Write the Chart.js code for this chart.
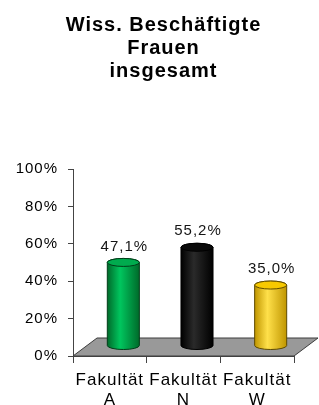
<!DOCTYPE html>
<html>
<head>
<meta charset="utf-8">
<script src="https://cdn.jsdelivr.net/npm/chart.js@4"></script>
<style>
  html, body { margin: 0; padding: 0; background: #fff; }
  #wrap { width: 319px; height: 405px; }
</style>
</head>
<body>
<div id="wrap"><canvas id="chart"></canvas></div>
<script>
const titleLines = ['Wiss. Beschäftigte', 'Frauen', 'insgesamt'];
const categories = [['Fakultät', 'A'], ['Fakultät', 'N'], ['Fakultät', 'W']];
const shares = [47.1, 55.2, 35.0];
const yTickValues = [0, 20, 40, 60, 80, 100];

const FONT = "'Liberation Sans', Arial, sans-serif";

// colours for the cylinders: edge / highlight / top face / outline
const barStyles = [
    { edge: '#006a2a', mid: '#00c65e', top: '#00ab4e', line: '#003d18' },
    { edge: '#000000', mid: '#2a2a2a', top: '#0a0a0a', line: '#000000' },
    { edge: '#c09600', mid: '#ffe04a', top: '#f7c900', line: '#5e4a00' }
];

// fake 3D depth used by Excel-style charts
const DEPTH_X = 24, DEPTH_Y = 18;

const spacing = {
    id: 'spacing',
    beforeDraw(chart) {
        chart.ctx.letterSpacing = '1px';
    }
};

const floor = {
    id: 'floor',
    beforeDatasetsDraw(chart) {
        const { ctx, chartArea: a } = chart;
        ctx.save();
        ctx.beginPath();
        ctx.moveTo(a.left, a.bottom);
        ctx.lineTo(a.left + DEPTH_X, a.bottom - DEPTH_Y);
        ctx.lineTo(a.right + DEPTH_X, a.bottom - DEPTH_Y);
        ctx.lineTo(a.right, a.bottom);
        ctx.closePath();
        ctx.fillStyle = '#999999';
        ctx.fill();
        ctx.strokeStyle = '#3c3c3c';
        ctx.lineWidth = 1;
        ctx.stroke();
        ctx.restore();
    }
};

const cylinders = {
    id: 'cylinders',
    afterDatasetsDraw(chart) {
        const ctx = chart.ctx;
        const meta = chart.getDatasetMeta(0);
        meta.data.forEach((bar, i) => {
            const p = bar.getProps(['x', 'y', 'base', 'width'], true);
            const s = barStyles[i];
            const r = p.width / 2;
            const ry = 4;
            const cx = p.x + 13.5;
            const topY = p.y - 5.5;
            const botY = p.base - 10;

            ctx.save();
            const g = ctx.createLinearGradient(cx - r, 0, cx + r, 0);
            g.addColorStop(0, s.edge);
            g.addColorStop(0.4, s.mid);
            g.addColorStop(1, s.edge);

            ctx.beginPath();
            ctx.moveTo(cx - r, topY);
            ctx.lineTo(cx - r, botY);
            ctx.ellipse(cx, botY, r, ry, 0, Math.PI, 0, true);
            ctx.lineTo(cx + r, topY);
            ctx.ellipse(cx, topY, r, ry, 0, 0, Math.PI, true);
            ctx.closePath();
            ctx.fillStyle = g;
            ctx.fill();
            ctx.strokeStyle = s.line;
            ctx.lineWidth = 1;
            ctx.stroke();

            ctx.beginPath();
            ctx.ellipse(cx, topY, r, ry, 0, 0, Math.PI * 2);
            ctx.fillStyle = s.top;
            ctx.fill();
            ctx.stroke();

            // value label
            ctx.font = '15px ' + FONT;
            ctx.fillStyle = '#151515';
            ctx.textAlign = 'center';
            ctx.textBaseline = 'middle';
            ctx.fillText(shares[i].toFixed(1).replace('.', ',') + '%', cx + 1, topY - 16);
            ctx.restore();
        });
    }
};

new Chart(document.getElementById('chart'), {
    type: 'bar',
    data: {
        labels: categories,
        datasets: [{
            data: shares,
            backgroundColor: 'rgba(0,0,0,0)',
            borderWidth: 0,
            barPercentage: 0.435,
            categoryPercentage: 1
        }]
    },
    options: {
        responsive: true,
        maintainAspectRatio: false,
        animation: false,
        layout: {
            padding: { left: 8, right: 0, top: 0, bottom: 0 }
        },
        plugins: {
            legend: { display: false },
            tooltip: { enabled: false },
            title: {
                display: true,
                text: titleLines,
                color: '#000',
                font: { family: FONT, size: 20, weight: 'bold', lineHeight: 1.15 },
                padding: { top: 14, bottom: 86 }
            }
        },
        scales: {
            x: {
                grid: {
                    offset: true,
                    drawOnChartArea: false,
                    tickLength: 7,
                    color: '#444'
                },
                border: { color: '#444' },
                ticks: {
                    color: '#000',
                    padding: 7,
                    maxRotation: 0,
                    font: { family: FONT, size: 17, lineHeight: 1.2 }
                },
                afterFit(scale) {
                    scale.height = 49;
                }
            },
            y: {
                min: 0,
                max: 100,
                afterBuildTicks(scale) {
                    scale.ticks = yTickValues.map(v => ({ value: v }));
                },
                grid: {
                    drawOnChartArea: false,
                    tickLength: 5,
                    color: '#444'
                },
                border: { color: '#444' },
                ticks: {
                    color: '#000',
                    padding: 10,
                    font: { family: FONT, size: 15 },
                    callback: v => v + '%'
                },
                afterFit(scale) {
                    scale.width = 65;
                }
            },
            // empty right-hand axis that only reserves room for the 3D floor
            side: {
                type: 'linear',
                position: 'right',
                display: true,
                grid: { display: false },
                border: { display: false },
                ticks: { display: false },
                afterFit(scale) {
                    scale.width = 25;
                }
            }
        }
    },
    plugins: [spacing, floor, cylinders]
});
</script>
</body>
</html>
